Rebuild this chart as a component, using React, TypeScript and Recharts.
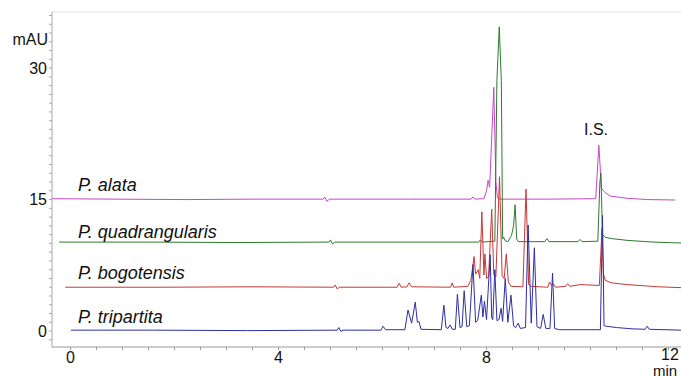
import { LineChart, Line, XAxis, YAxis, ReferenceLine } from "recharts";

type Pt = [number, number];

// retention time (min), absorbance (mAU) - each trace already carries its vertical offset
const alata: Pt[] = [
    [-0.36, 15.1], [0.8, 15.05], [2.2, 15.0], [3.6, 15.05], [4.86, 15.05], [4.89, 15.3], [4.93, 14.8], [4.98, 15.05],
    [6.5, 15.05], [7.7, 15.05], [7.74, 15.3], [7.78, 15.05], [7.95, 15.1], [8.0, 16.0], [8.03, 17.2], [8.06, 16.4],
    [8.14, 27.8], [8.18, 17.0], [8.21, 15.2], [8.24, 15.05], [9.2, 15.05], [10.1, 15.1], [10.16, 21.2], [10.21, 16.3],
    [10.28, 15.8], [10.38, 15.4], [10.7, 15.15], [11.1, 15.0], [11.63, 14.95],
];

const quadrangularis: Pt[] = [
    [-0.22, 10.15], [1.5, 10.15], [3.2, 10.1], [4.97, 10.15], [5.0, 10.4], [5.04, 9.9], [5.08, 10.15], [7.85, 10.15],
    [7.88, 10.4], [7.92, 10.15], [8.16, 10.25], [8.2, 28.6], [8.245, 34.7], [8.285, 28.6], [8.31, 10.5], [8.33, 10.7],
    [8.36, 10.3], [8.41, 10.2], [8.48, 10.9], [8.52, 12.0], [8.55, 14.4], [8.58, 10.5], [8.61, 10.2], [9.12, 10.2],
    [9.16, 10.55], [9.2, 10.2], [9.76, 10.2], [9.8, 10.45], [9.84, 10.2], [10.14, 10.25], [10.18, 17.0], [10.2, 18.0],
    [10.23, 11.0], [10.28, 10.7], [10.4, 10.55], [10.7, 10.35], [11.2, 10.15], [11.74, 10.05],
];

const bogotensis: Pt[] = [
    [-0.1, 5.0], [1.8, 5.0], [3.5, 5.05], [5.06, 5.0], [5.09, 5.25], [5.13, 4.8], [5.17, 5.0], [6.28, 5.0],
    [6.32, 5.45], [6.36, 5.0], [6.47, 5.05], [6.51, 5.5], [6.56, 5.05], [7.31, 5.0], [7.34, 5.5], [7.37, 5.0],
    [7.64, 5.1], [7.7, 5.8], [7.76, 8.5], [7.79, 6.5], [7.84, 7.0], [7.87, 6.0], [7.91, 13.6], [7.95, 6.4],
    [7.97, 8.8], [8.0, 6.0], [8.04, 6.2], [8.1, 13.9], [8.14, 6.4], [8.18, 6.2], [8.25, 17.6], [8.3, 6.3],
    [8.34, 6.0], [8.38, 8.8], [8.42, 5.6], [8.47, 5.1], [8.7, 5.05], [8.76, 16.2], [8.81, 5.3], [8.86, 5.1],
    [9.18, 5.0], [9.21, 5.6], [9.25, 5.2], [9.28, 5.4], [9.33, 5.0], [9.52, 5.1], [9.56, 5.4], [9.6, 5.1],
    [9.8, 5.3], [10.17, 5.2], [10.22, 11.7], [10.25, 6.5], [10.28, 5.8], [10.4, 5.5], [10.7, 5.3], [11.3, 5.05],
    [11.74, 4.95],
];

const tripartita: Pt[] = [
    [0.01, 0.1], [1.6, 0.1], [3.4, 0.05], [5.13, 0.1], [5.16, 0.4], [5.2, -0.05], [5.24, 0.1], [5.97, 0.1],
    [6.01, 0.55], [6.06, 0.15], [6.43, 0.15], [6.49, 2.4], [6.56, 0.9], [6.63, 3.3], [6.67, 1.0], [6.7, 1.1],
    [6.74, 0.2], [7.13, 0.15], [7.18, 2.95], [7.22, 0.4], [7.26, 0.3], [7.3, 0.7], [7.34, 0.2], [7.4, 0.2],
    [7.44, 4.2], [7.49, 0.4], [7.53, 0.5], [7.57, 4.6], [7.62, 0.5], [7.67, 0.6], [7.74, 7.6], [7.79, 1.0],
    [7.83, 1.2], [7.9, 4.1], [7.93, 1.6], [7.96, 3.4], [8.0, 1.3], [8.07, 8.7], [8.1, 1.5], [8.12, 1.3],
    [8.16, 7.0], [8.2, 1.2], [8.24, 1.3], [8.28, 2.6], [8.31, 1.1], [8.36, 6.0], [8.41, 1.0], [8.47, 4.1],
    [8.52, 0.6], [8.56, 0.4], [8.61, 0.9], [8.65, 0.3], [8.75, 0.4], [8.8, 12.1], [8.86, 0.9], [8.92, 9.5],
    [8.97, 0.5], [9.04, 0.3], [9.09, 1.9], [9.14, 0.3], [9.22, 0.3], [9.27, 6.6], [9.31, 0.3], [9.4, 0.15],
    [10.19, 0.15], [10.23, 13.2], [10.26, 0.6], [10.3, 0.55], [10.5, 0.4], [10.8, 0.25], [11.05, 0.2], [11.09, 0.55],
    [11.13, 0.2], [11.74, 0.1],
];

const X_TICKS = [0, 0.5, 1, 1.5, 2, 2.5, 3, 3.5, 4, 4.5, 5, 5.5, 6, 6.5, 7, 7.5, 8, 8.5, 9, 9.5, 10, 10.5, 11, 11.5];
const X_LABELS = [0, 4, 8];
const Y_TICKS = [-1, 0, 1, 2, 3, 4, 5, 6, 7, 8, 9, 10, 11, 12, 13, 14, 15, 16, 17, 18, 19, 20, 21, 22, 23, 24, 25,
    26, 27, 28, 29, 30, 31, 32, 33, 34, 35, 36];
const Y_LABELS = [0, 15, 30];

const FONT = '"Liberation Sans", Arial, Helvetica, sans-serif';

const traces = [
    { name: "P. alata", points: alata, color: "#c846c8", labelTop: 175 },
    { name: "P. quadrangularis", points: quadrangularis, color: "#2d7a2d", labelTop: 222 },
    { name: "P. bogotensis", points: bogotensis, color: "#c83737", labelTop: 263 },
    { name: "P. tripartita", points: tripartita, color: "#2e2ea6", labelTop: 307 },
];

const text = (left: number, top: number, size: number, italic = false, lh = size + 2): React.CSSProperties => ({
    position: "absolute",
    left,
    top,
    fontFamily: FONT,
    fontSize: size,
    lineHeight: `${lh}px`,
    fontStyle: italic ? "italic" : "normal",
    color: "#111",
    whiteSpace: "nowrap",
});

const App = () => {
    return (
        <div style={{ position: "absolute", left: 0, top: 0, width: 681, height: 378, overflow: "hidden", background: "#fff" }}>
            <LineChart width={681} height={378} margin={{ top: 12, right: 0, bottom: 0, left: 0 }}>
                <XAxis
                    type="number"
                    dataKey="t"
                    domain={[-0.356, 11.74]}
                    allowDataOverflow
                    ticks={X_TICKS}
                    interval={0}
                    tickFormatter={(v: number) => (X_LABELS.includes(v) ? String(v) : "")}
                    height={31}
                    tickSize={3}
                    tickMargin={2}
                    stroke="#9a9a9a"
                    tick={{ fill: "#111", fontSize: 16, fontFamily: FONT }}
                />
                <YAxis
                    type="number"
                    domain={[-1.82, 36.4]}
                    allowDataOverflow
                    ticks={Y_TICKS}
                    interval={0}
                    tickFormatter={(v: number) => (Y_LABELS.includes(v) ? String(v) : "")}
                    width={52}
                    tickSize={3}
                    tickMargin={2}
                    stroke="#a8a8a8"
                    tick={{ fill: "#111", fontSize: 16, fontFamily: FONT }}
                />
                <ReferenceLine y={36.4} stroke="#e0e0e0" />
                {traces.map((tr) => (
                    <Line
                        key={tr.name}
                        data={tr.points.map(([t, v]) => ({ t, v }))}
                        dataKey="v"
                        type="linear"
                        stroke={tr.color}
                        strokeWidth={1}
                        dot={false}
                        isAnimationActive={false}
                    />
                ))}
            </LineChart>
            {traces.map((tr) => (
                <div key={tr.name} style={text(78, tr.labelTop, 18, true)}>{tr.name}</div>
            ))}
            <div style={text(584, 121, 16)}>I.S.</div>
            <div style={{ ...text(0, 31, 16), width: 48, textAlign: "right" }}>mAU</div>
            <div style={text(661, 347, 16, false, 15)}>12</div>
            <div style={text(653, 363, 15, false, 15)}>min</div>
        </div>
    );
};

export default App;
